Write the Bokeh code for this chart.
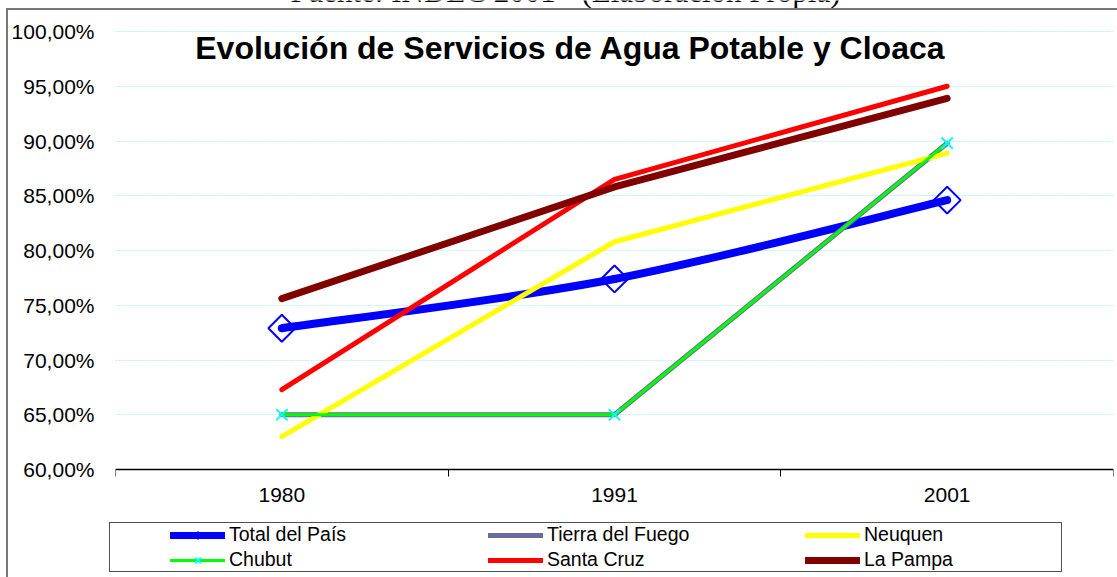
import numpy as np
from bokeh.plotting import figure
from bokeh.models import (Range1d, FixedTicker, Legend, LegendItem, Label,
                          InlineStyleSheet, ColumnDataSource)
from bokeh.embed import file_html
from bokeh.resources import INLINE

# ---------------- data ----------------
years = ["1980", "1991", "2001"]
total_pais = [72.9, 77.4, 84.6]
tierra_del_fuego = [65.0, 65.0, 89.8]
neuquen = [63.0, 80.8, 88.9]
chubut = [65.0, 65.0, 89.8]
santa_cruz = [67.3, 86.5, 95.0]
la_pampa = [75.6, 85.8, 93.9]

y_ticks = [60, 65, 70, 75, 80, 85, 90, 95, 100]
y_tick_labels = ["60,00%", "65,00%", "70,00%", "75,00%", "80,00%",
                 "85,00%", "90,00%", "95,00%", "100,00%"]
title_text = "Evolución de Servicios de Agua Potable y Cloaca"
source_text = "Fuente: INDEC 2001 - (Elaboración Propia)"

FONT = "Liberation Sans"

# layout (pixels): plot area 115..1113 horizontally, 31..469 for 60-100 %,
# the frame spans the whole canvas height to hold the legend and source note
Y_MIN, Y_MAX = 60, 100
PX_PER_UNIT = (469 - 31) / (Y_MAX - Y_MIN)
y_lo = Y_MIN - (577 - 469) / PX_PER_UNIT
y_hi = Y_MAX + 31 / PX_PER_UNIT

x = np.arange(len(years)) + 0.5

p = figure(width=1117, height=577, output_backend="svg", toolbar_location=None,
           x_range=Range1d(0, len(years)), y_range=Range1d(y_lo, y_hi),
           min_border_left=115, min_border_right=4, min_border_top=0,
           min_border_bottom=0)
p.outline_line_color = None
p.background_fill_color = "white"
p.border_fill_color = "white"

# frames drawn around the chart and the legend
p.stylesheets = [InlineStyleSheet(css="""
:host::before {
  content: ""; position: absolute; left: 6px; top: 8px; width: 1200px; height: 700px;
  border: 2px solid #777777; pointer-events: none; z-index: 10; box-sizing: border-box;
}
:host::after {
  content: ""; position: absolute; left: 109px; top: 522px; width: 953px; height: 50px;
  border: 1px solid #505050; pointer-events: none; z-index: 10; box-sizing: border-box;
}
""")]

# axes
p.xaxis.fixed_location = Y_MIN
p.xaxis.ticker = FixedTicker(ticks=list(x), minor_ticks=list(range(len(years) + 1)))
p.xaxis.major_label_overrides = {float(v): t for v, t in zip(x, years)}
p.xaxis.major_tick_out = 0
p.xaxis.major_tick_in = 0
p.xaxis.minor_tick_out = 7
p.xaxis.minor_tick_in = 0
p.xaxis.minor_tick_line_color = "black"
p.xaxis.axis_line_color = "black"
p.xaxis.axis_line_width = 1.5
p.xaxis.major_label_standoff = 11
p.xaxis.major_label_text_font = FONT
p.xaxis.major_label_text_font_size = "21px"
p.xaxis.major_label_text_color = "black"

p.yaxis.ticker = FixedTicker(ticks=y_ticks)
p.yaxis.major_label_overrides = {v: t for v, t in zip(y_ticks, y_tick_labels)}
p.yaxis.axis_line_color = None
p.yaxis.major_tick_line_color = None
p.yaxis.minor_tick_line_color = None
p.yaxis.major_label_standoff = 15
p.yaxis.major_label_text_font = FONT
p.yaxis.major_label_text_font_size = "21px"
p.yaxis.major_label_text_color = "black"

p.xgrid.grid_line_color = None
p.ygrid.grid_line_color = "#B8F4F4"
p.ygrid.grid_line_dash = "2 1"
p.ygrid.grid_line_width = 1

# ---------------- series ----------------
def smooth_segments(xs, ys):
    xs = list(xs); ys = list(ys)
    px = [xs[0]] + xs + [xs[-1]]
    py = [ys[0]] + ys + [ys[-1]]
    out = {k: [] for k in ("x0", "y0", "x1", "y1", "cx0", "cy0", "cx1", "cy1")}
    for i in range(1, len(px) - 2):
        out["x0"].append(px[i]); out["y0"].append(py[i])
        out["x1"].append(px[i + 1]); out["y1"].append(py[i + 1])
        out["cx0"].append(px[i] + (px[i + 1] - px[i - 1]) / 6)
        out["cy0"].append(py[i] + (py[i + 1] - py[i - 1]) / 6)
        out["cx1"].append(px[i + 1] - (px[i + 2] - px[i]) / 6)
        out["cy1"].append(py[i + 1] - (py[i + 2] - py[i]) / 6)
    return out

seg = smooth_segments(x, total_pais)
r_total = p.bezier(line_color="#0000FF", line_width=8, line_cap="round", **seg)
r_total_m = p.scatter(x, total_pais, marker="square", angle=np.pi / 4, size=19,
                      fill_color=None, line_color="#0000FF", line_width=2)
# legend-only proxies for the "Total del País" key (NaN -> nothing drawn in the plot)
key_src = ColumnDataSource(data=dict(x=[np.nan], y=[np.nan]))
r_total_key = p.line("x", "y", source=key_src, line_color="#0000FF", line_width=7,
                     line_cap="round")
r_total_key_m = p.scatter("x", "y", source=key_src, marker="diamond", size=10,
                          fill_color="#0000FF", line_color="#0000FF")

r_tdf = p.line(x, tierra_del_fuego, line_color="#6B6B9E", line_width=5,
               line_cap="round", line_join="round")
r_neu = p.line(x, neuquen, line_color="#FFFF00", line_width=5,
               line_cap="round", line_join="round")
r_chu = p.line(x, chubut, line_color="#00FF00", line_width=3,
               line_cap="round", line_join="round")
r_chu_m = p.scatter(x, chubut, marker="x", size=16, line_color="#00FFFF",
                    line_width=2)
r_sc = p.line(x, santa_cruz, line_color="#FF0000", line_width=5,
              line_cap="round", line_join="round")
r_lp = p.line(x, la_pampa, line_color="#800000", line_width=7,
              line_cap="round", line_join="round")

# ---------------- title and (cropped) source note ----------------
p.add_layout(Label(x=455, y=530, x_units="screen", y_units="screen",
                   text=title_text, text_align="center", text_baseline="alphabetic",
                   text_font=FONT, text_font_style="bold", text_font_size="32px",
                   text_color="black"))
p.add_layout(Label(x=450, y=586, x_units="screen", y_units="screen",
                   text=source_text, text_align="center", text_baseline="alphabetic",
                   text_font="Liberation Serif", text_font_size="31px",
                   text_color="black"))

# ---------------- legend (three columns of two rows) ----------------
legend_columns = [
    [("Total del País", [r_total_key, r_total_key_m]), ("Chubut", [r_chu, r_chu_m])],
    [("Tierra del Fuego", [r_tdf]), ("Santa Cruz", [r_sc])],
    [("Neuquen", [r_neu]), ("La Pampa", [r_lp])],
]
col_x = [170 - 115, 488 - 115, 805 - 115]
for cx, col in zip(col_x, legend_columns):
    lg = Legend(items=[LegendItem(label=l, renderers=r) for l, r in col],
                location=(cx, 6), orientation="vertical",
                padding=0, margin=0, spacing=2, glyph_width=55, glyph_height=20,
                label_height=20, label_standoff=4,
                label_text_font=FONT, label_text_font_size="19.5px",
                label_text_color="black", border_line_color=None,
                background_fill_alpha=0)
    p.add_layout(lg, "center")

open("out.html", "w").write(file_html(p, INLINE))
